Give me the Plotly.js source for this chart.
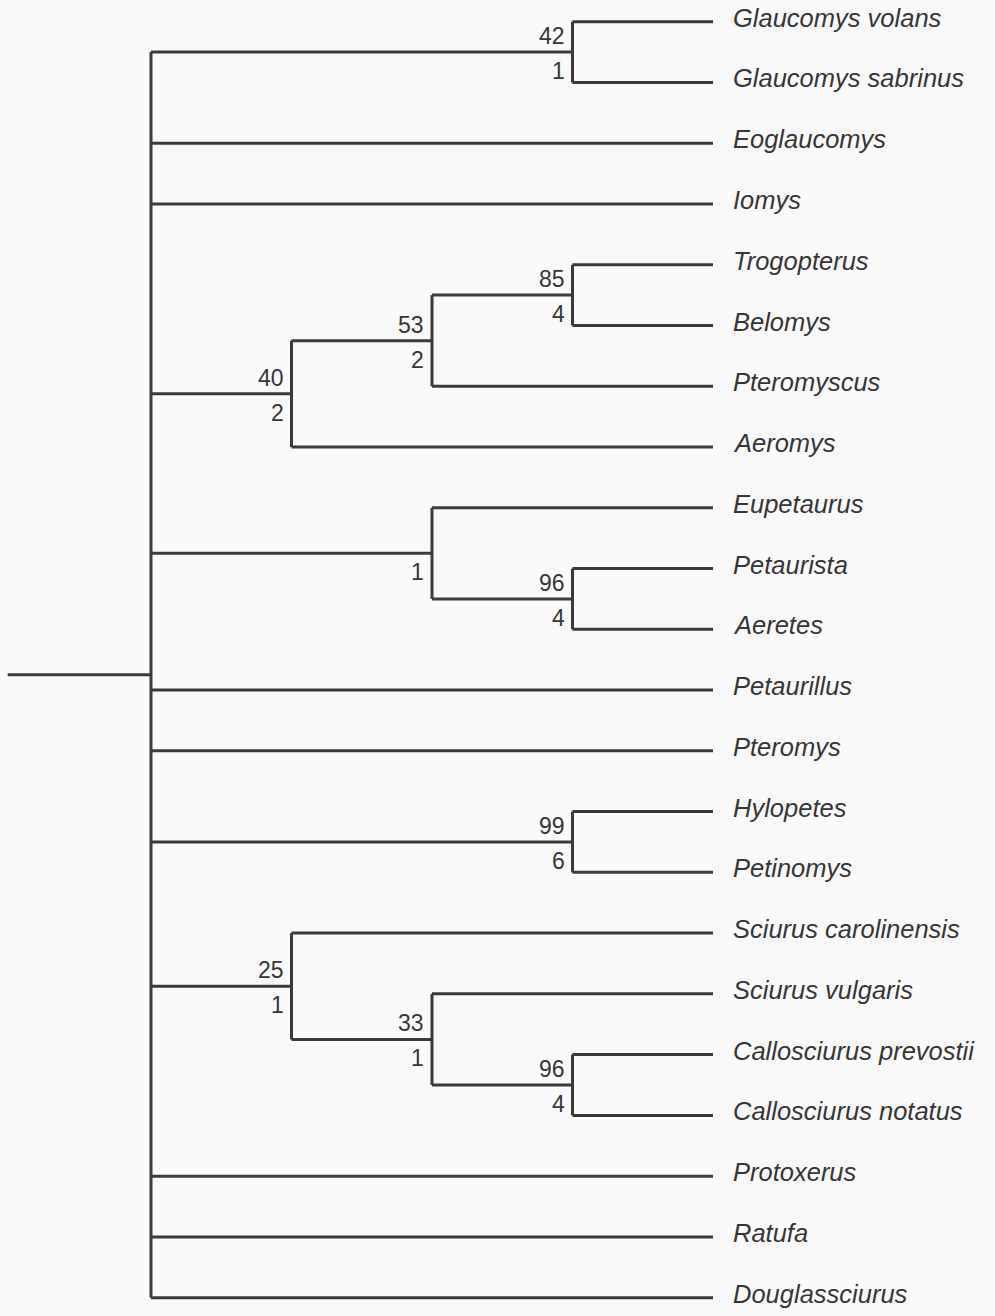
<!DOCTYPE html>
<html>
<head>
<meta charset="utf-8">
<script src="https://cdn.plot.ly/plotly-3.0.1.min.js"></script>
<style>
html,body{margin:0;padding:0;background:#fafafa;}
#chart{width:995px;height:1316px;}
</style>
</head>
<body>
<div id="chart"></div>
<script>
// Terminal taxa, top to bottom
var taxa = [
  "Glaucomys volans", "Glaucomys sabrinus", "Eoglaucomys", "Iomys",
  "Trogopterus", "Belomys", "Pteromyscus", "Aeromys",
  "Eupetaurus", "Petaurista", "Aeretes", "Petaurillus", "Pteromys",
  "Hylopetes", "Petinomys", "Sciurus carolinensis", "Sciurus vulgaris",
  "Callosciurus prevostii", "Callosciurus notatus", "Protoxerus",
  "Ratufa", "Douglassciurus"
];

// Internal nodes: id, children, bootstrap (above), decay index (below)
var nodeIds = ["root", "n1", "n2", "n3", "n4", "n5", "n6", "n7", "n8", "n9", "n10"];
var nodeChildren = [
  ["n1", "Eoglaucomys", "Iomys", "n2", "n5", "Petaurillus", "Pteromys", "n7", "n8", "Protoxerus", "Ratufa", "Douglassciurus"],
  ["Glaucomys volans", "Glaucomys sabrinus"],
  ["n3", "Aeromys"],
  ["n4", "Pteromyscus"],
  ["Trogopterus", "Belomys"],
  ["Eupetaurus", "n6"],
  ["Petaurista", "Aeretes"],
  ["Hylopetes", "Petinomys"],
  ["Sciurus carolinensis", "n9"],
  ["Sciurus vulgaris", "n10"],
  ["Callosciurus prevostii", "Callosciurus notatus"]
];
var bootstrap = ["", "42", "40", "53", "85", "", "96", "99", "25", "33", "96"];
var decay     = ["", "1",  "2",  "2",  "4",  "1", "4",  "6",  "1",  "1",  "4"];

// ---- layout of the tree (cladogram) ----
var children = {};
nodeIds.forEach(function(id, k){ children[id] = nodeChildren[k]; });
var height = {}, posY = {};
taxa.forEach(function(t, i){ height[t] = 0; posY[t] = i; });
function calc(id){
  if (height[id] !== undefined) return;
  var ch = children[id];
  ch.forEach(calc);
  height[id] = 1 + Math.max.apply(null, ch.map(function(c){ return height[c]; }));
  posY[id] = (posY[ch[0]] + posY[ch[ch.length - 1]]) / 2;
}
calc("root");
var maxH = height["root"];
function X(id){ return maxH - height[id]; }

var lx = [], ly = [];
function seg(x0, y0, x1, y1){ lx.push(x0, x1, null); ly.push(y0, y1, null); }
nodeIds.forEach(function(id){
  var ch = children[id];
  var xn = X(id);
  seg(xn, posY[ch[0]], xn, posY[ch[ch.length - 1]]);
  ch.forEach(function(c){ seg(xn, posY[c], X(c), posY[c]); });
});
// root stem
seg(-1.02, posY["root"], X("root"), posY["root"]);

var lineColor = "#3b3b3b";
var trace = {
  x: lx, y: ly, mode: "lines", type: "scatter", hoverinfo: "skip",
  line: {color: lineColor, width: 3}, connectgaps: false
};

var taxonFont = {family: "Liberation Sans, Arial, sans-serif", size: 25.5, color: "#363636"};
var numFont = {family: "Liberation Sans, Arial, sans-serif", size: 23, color: "#363636"};
var ann = [];
taxa.forEach(function(t){
  ann.push({x: X(t), y: posY[t], text: "<i>" + t + "</i>", showarrow: false,
    xanchor: "left", yanchor: "middle", xshift: 18, yshift: 4, font: taxonFont});
});
nodeIds.forEach(function(id, k){
  if (bootstrap[k]) ann.push({x: X(id), y: posY[id], text: bootstrap[k], showarrow: false,
    xanchor: "right", yanchor: "middle", xshift: -6, yshift: 16, font: numFont});
  if (decay[k]) ann.push({x: X(id), y: posY[id], text: decay[k], showarrow: false,
    xanchor: "right", yanchor: "middle", xshift: -6, yshift: -19, font: numFont});
});

var xUnit = 140.5, x0px = 151;
var yUnit = 60.76, y0px = 21.7;
var layout = {
  width: 995, height: 1316,
  margin: {l: 0, r: 0, t: 0, b: 0},
  paper_bgcolor: "#fafafa", plot_bgcolor: "#fafafa",
  showlegend: false,
  xaxis: {range: [-x0px / xUnit, (995 - x0px) / xUnit], visible: false, fixedrange: true},
  yaxis: {range: [(1316 - y0px) / yUnit, -y0px / yUnit], visible: false, fixedrange: true},
  annotations: ann
};
Plotly.newPlot("chart", [trace], layout, {staticPlot: true});
</script>
</body>
</html>
